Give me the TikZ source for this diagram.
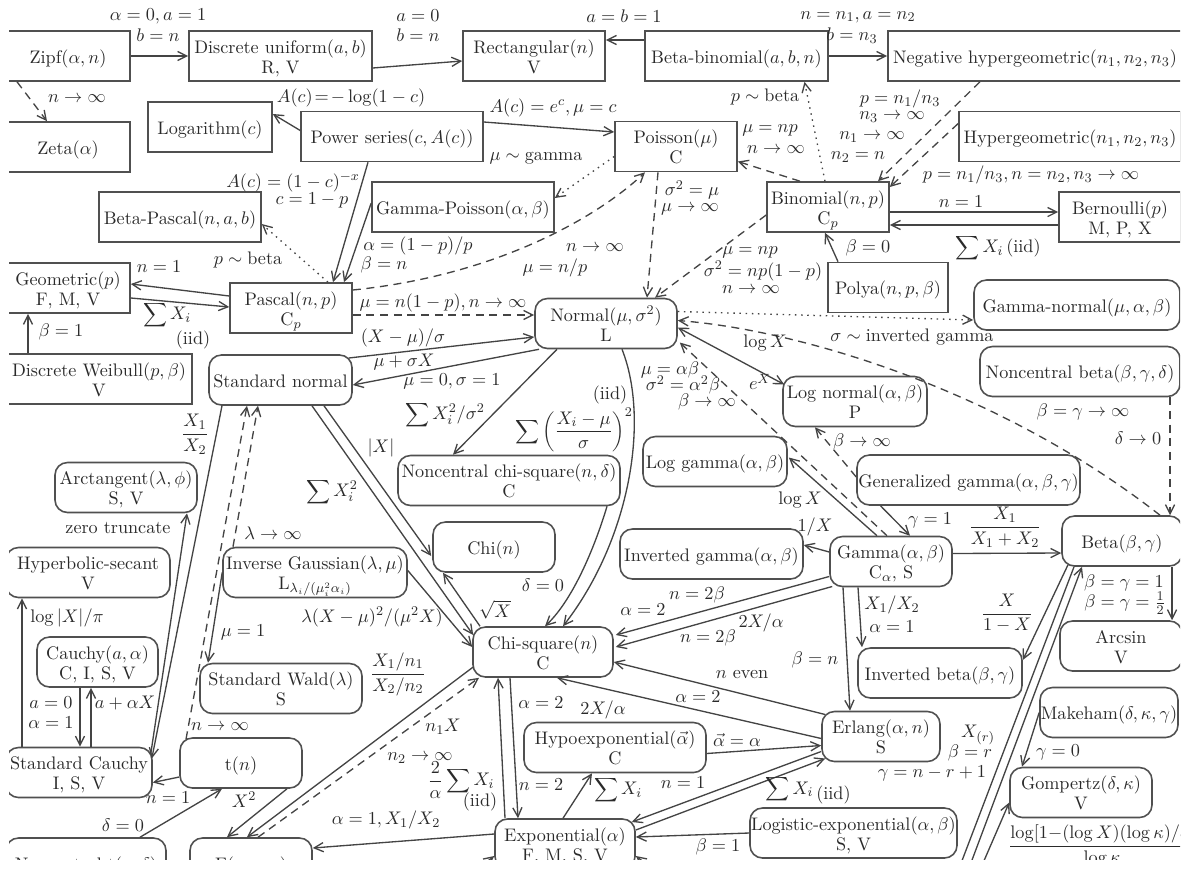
\documentclass[tikz,border=0pt]{standalone}
\usetikzlibrary{arrows.meta,calc}
\definecolor{ink}{HTML}{2A2A2A}
\definecolor{ln}{HTML}{444444}
\definecolor{bx}{HTML}{505050}
% two-line box text, first line sits in the upper half of the box
\newcommand\twol[2]{\raisebox{-4.8pt}[0pt][0pt]{\begin{tabular}{@{}c@{}}#1\\#2\end{tabular}}}
\begin{document}
\begin{tikzpicture}[x=0.6pt,y=-0.6pt,
  font=\fontsize{10.9pt}{12pt}\selectfont,
  dbox/.style={draw=bx,line width=0.95pt,minimum height=30pt,inner sep=0pt,text=ink},
  cbox/.style={dbox,rounded corners=7.5pt},
  wd/.style={minimum width=#1*0.6pt},
  lbl/.style={inner sep=0pt,text=ink},
  ar/.style={draw=ln,line width=0.8pt,-{Straight Barb[length=5.5pt,width=5.5pt]}},
  tw/.style={draw=ln,line width=0.8pt,{Straight Barb[length=5.5pt,width=5.5pt]}-{Straight Barb[length=5.5pt,width=5.5pt]}},
  dsh/.style={ar,dash pattern=on 4.8pt off 3.4pt},
  dotl/.style={ar,dash pattern=on 0.9pt off 2.8pt},
]
\useasboundingbox (0,0) rectangle (1193,868);
\begin{scope}
\clip (9,0) rectangle (1180,859);

% ---------- discrete distributions ----------
\node[dbox,wd=124] (zipf) at (68,56) {\twol{Zipf$(\alpha, n)$}{}};
\node[dbox,wd=183] (dunif) at (280.5,56) {\twol{Discrete uniform$(a, b)$}{R, V}};
\node[dbox,wd=142] (rect) at (534,56) {\twol{Rectangular$(n)$}{V}};
\node[dbox,wd=183] (betabin) at (736.5,56) {\twol{Beta-binomial$(a, b, n)$}{}};
\node[dbox,wd=294] (neghyp) at (1035,56) {\twol{Negative hypergeometric$(n_1, n_2, n_3)$}{}};
\node[dbox,wd=124] (zeta) at (68,147) {\twol{Zeta$(\alpha)$}{}};
\node[dbox,wd=124] (logd) at (210,127) {\twol{Logarithm$(c)$}{}};
\node[dbox,wd=182] (power) at (392,136.5) {\twol{Power series$(c, A(c))$}{}};
\node[dbox,wd=122] (poisson) at (676,146.5) {\twol{Poisson$(\mu)$}{C}};
\node[dbox,wd=222] (hyper) at (1070,136.5) {\twol{Hypergeometric$(n_1, n_2, n_3)$}{}};
\node[dbox,wd=182] (gpois) at (463,207) {\twol{Gamma-Poisson$(\alpha, \beta)$}{}};
\node[dbox,wd=162] (bpascal) at (180,217) {\twol{Beta-Pascal$(n, a, b)$}{}};
\node[dbox,wd=122] (binom) at (828,207) {\twol{Binomial$(n, p)$}{C$_p$}};
\node[dbox,wd=122] (bern) at (1120,217) {\twol{Bernoulli$(p)$}{M, P, X}};
\node[dbox,wd=120] (polya) at (888,287.5) {\twol{Polya$(n, p, \beta)$}{}};
\node[dbox,wd=124] (geom) at (68,288) {\twol{Geometric$(p)$}{F, M, V}};
\node[dbox,wd=122] (pascal) at (291,308) {\twol{Pascal$(n, p)$}{C$_p$}};
\node[dbox,wd=186] (dweib) at (99,379) {\twol{Discrete Weibull$(p, \beta)$}{V}};

% ---------- continuous distributions ----------
\node[cbox,wd=142] (normal) at (606,323.5) {\twol{Normal$(\mu, \sigma^2)$}{L}};
\node[cbox,wd=206] (gnormal) at (1077,305) {\twol{Gamma-normal$(\mu, \alpha, \beta)$}{}};
\node[cbox,wd=143] (sn) at (280.5,380) {\twol{Standard normal}{}};
\node[cbox,wd=200] (ncbeta) at (1080,371.5) {\twol{Noncentral beta$(\beta, \gamma, \delta)$}{}};
\node[cbox,wd=144] (lognorm) at (855,401.5) {\twol{Log normal$(\alpha, \beta)$}{P}};
\node[cbox,wd=222] (ncchi) at (509,480.5) {\twol{Noncentral chi-square$(n, \delta)$}{C}};
\node[cbox,wd=144] (loggamma) at (715,461.5) {\twol{Log gamma$(\alpha, \beta)$}{}};
\node[cbox,wd=223] (gengamma) at (968.5,480) {\twol{Generalized gamma$(\alpha, \beta, \gamma)$}{}};
\node[cbox,wd=142] (arctan) at (126,487.5) {\twol{Arctangent$(\lambda, \phi)$}{S, V}};
\node[cbox,wd=122] (chi) at (494,547) {\twol{Chi$(n)$}{}};
\node[cbox,wd=164] (hsec) at (88,572.5) {\twol{Hyperbolic-secant}{V}};
\node[cbox,wd=184] (invgauss) at (315,572.5) {\twol{Inverse Gaussian$(\lambda, \mu)$}{L$_{\lambda_i/(\mu_i^2\alpha_i)}$}};
\node[cbox,wd=183] (invgamma) at (711.5,554) {\twol{Inverted gamma$(\alpha, \beta)$}{}};
\node[cbox,wd=122] (gamma) at (891,561.5) {\twol{Gamma$(\alpha, \beta)$}{C$_\alpha$, S}};
\node[cbox,wd=120] (beta) at (1122,541) {\twol{Beta$(\beta, \gamma)$}{}};
\node[cbox,wd=121] (cauchy) at (97.5,662) {\twol{Cauchy$(a, \alpha)$}{C, I, S, V}};
\node[cbox,wd=162] (wald) at (281,688.5) {\twol{Standard Wald$(\lambda)$}{S}};
\node[cbox,wd=140] (chisq) at (543,652) {\twol{Chi-square$(n)$}{C}};
\node[cbox,wd=122] (arcsin) at (1121,646) {\twol{Arcsin}{V}};
\node[cbox,wd=164] (invbeta) at (940,673) {\twol{Inverted beta$(\beta, \gamma)$}{}};
\node[cbox,wd=138] (makeham) at (1109,712.5) {\twol{Makeham$(\delta, \kappa, \gamma)$}{}};
\node[cbox,wd=146] (scauchy) at (79,772.5) {\twol{Standard Cauchy}{I, S, V}};
\node[cbox,wd=122] (tn) at (241,763) {\twol{t$(n)$}{}};
\node[cbox,wd=182] (hypoexp) at (615,747.5) {\twol{Hypoexponential$(\vec{\alpha})$}{C}};
\node[cbox,wd=118] (erlang) at (881,736.5) {\twol{Erlang$(\alpha, n)$}{S}};
\node[cbox,wd=142] (gompertz) at (1081,792.5) {\twol{Gompertz$(\delta, \kappa)$}{V}};
\node[cbox,wd=207] (logexp) at (853.5,833) {\twol{Logistic-exponential$(\alpha, \beta)$}{S, V}};
\node[cbox,wd=140] (expo) at (565,844) {\twol{Exponential$(\alpha)$}{F, M, S, V}};
\node[cbox,wd=160] (nct) at (86,863) {\twol{Noncentral t$(n, \delta)$}{}};
\node[cbox,wd=122] (fdist) at (251,863) {\twol{F$(n_1, n_2)$}{}};

% ---------- connectors among the discrete ones ----------
\draw[ar] (zipf.east) -- (dunif.west);
\draw[dsh] ($(zipf.south)+(-51,0)$) -- ($(zeta.north)+(-21,0)$);
\draw[ar] ($(dunif.east)+(0,12)$) -- ($(rect.west)+(0,5)$);
\draw[ar] ($(betabin.west)+(0,-16)$) -- ($(rect.east)+(0,-16)$);
\draw[ar] (betabin.east) -- (neghyp.west);
\draw[ar] ($(power.west)+(0,-6)$) -- ($(logd.east)+(0,-13)$);
\draw[ar] ($(power.east)+(0,-14.5)$) -- ($(poisson.west)+(0,-14.5)$);
\draw[ar] ($(power.south)+(-24,0)$) -- ($(pascal.north)+(42,0)$);
\draw[ar] ($(gpois.west)+(0,-4)$) -- ($(pascal.north)+(53,0)$);
\draw[dotl] ($(poisson.west)+(0,10)$) -- ($(gpois.east)+(0,-9)$);
\draw[dsh] ($(pascal.east)+(0,-18)$) .. controls (500,275) and (600,215) .. ($(poisson.south)+(-31,0)$);
\draw[dotl] ($(pascal.north)+(37,0)$) -- ($(bpascal.east)+(0,7)$);
\draw[ar] ($(pascal.west)+(0,-12)$) -- ($(geom.east)+(0,-4)$);
\draw[ar] ($(geom.east)+(0,10)$) -- ($(pascal.west)+(0,-1)$);
\draw[ar] ($(dweib.north)+(-71,0)$) -- ($(geom.south)+(-40,0)$);
\draw[dsh] ($(pascal.east)+(0,7)$) -- ($(normal.west)+(0,-8.5)$);

\draw[ar] ($(binom.east)+(0,5)$) -- ($(bern.west)+(0,-5)$);
\draw[ar] ($(bern.west)+(0,8)$) -- ($(binom.east)+(0,18)$);
\draw[ar] ($(polya.north)+(-50,0)$) -- ($(binom.south)+(-3,0)$);
\draw[dsh] ($(binom.north)+(-28,0)$) -- ($(poisson.east)+(0,15)$);
\draw[dsh] ($(binom.west)+(0,8)$) -- ($(normal.north)+(49,0)$);
\draw[dsh] ($(poisson.south)+(-18,0)$) -- ($(normal.north)+(41,0)$);
\draw[dotl] ($(binom.north)+(-3,0)$) -- ($(betabin.south)+(68,0)$);
\draw[dsh] ($(neghyp.south)+(-55,0)$) -- ($(binom.north)+(50,0)$);
\draw[dsh] ($(hyper.west)+(0,-13)$) -- ($(binom.east)+(0,-20)$);

% ---------- around the normal ----------
\draw[ar] ($(sn.east)+(-4,-22)$) -- ($(normal.west)+(0,13.5)$);
\draw[ar] ($(normal.south)+(-67,0)$) -- ($(sn.east)+(0,5)$);
\draw[ar] ($(normal.south)+(-49,0)$) -- ($(ncchi.north)+(-56,0)$);
\draw[ar] ($(normal.south)+(16,0)$) .. controls (650,420) and (630,540) .. ($(chisq.north)+(20,0)$);
\draw[ar] ($(ncchi.south)+(98,0)$) .. controls (597,540) and (575,598) .. ($(chisq.north)+(2,0)$);
\draw[dotl] ($(normal.east)+(0,-12)$) -- ($(gnormal.west)+(0,15)$);
\draw[dsh] ($(beta.north)+(38,0)$) .. controls (1000,390) and (800,330) .. ($(normal.east)+(0,-3)$);
\draw[tw] ($(normal.east)+(0,4)$) -- ($(lognorm.west)+(2,-17)$);
\draw[dsh] ($(gamma.north)+(-4,0)$) -- ($(normal.east)+(2,19)$);
\draw[dsh] ($(gengamma.west)+(0,-3)$) -- ($(lognorm.south)+(-40,0)$);

% ---------- gamma family ----------
\draw[ar] ($(gengamma.south)+(-88,0)$) -- ($(gamma.north)+(19,0)$);
\draw[ar] ($(gamma.north)+(-14,0)$) -- ($(loggamma.east)+(1,-4)$);
\draw[ar] ($(gamma.west)+(0,-9.5)$) -- ($(invgamma.east)+(0,-9)$);
\draw[ar] ($(gamma.west)+(0,15)$) -- ($(chisq.east)+(2,-17)$);
\draw[ar] ($(gamma.west)+(3,25)$) -- ($(chisq.east)+(2,-5)$);
\draw[ar] ($(gamma.south)+(-48,0)$) -- ($(erlang.north)+(-31,0)$);
\draw[ar] ($(gamma.south)+(-33,0)$) -- ($(invbeta.north)+(-78,0)$);
\draw[ar] ($(gamma.east)+(0,-8)$) -- ($(beta.west)+(0,12)$);
\draw[dsh] ($(ncbeta.south)+(90,0)$) -- ($(beta.north)+(48,0)$);
\draw[ar] ($(beta.south)+(50,0)$) -- ($(arcsin.north)+(51,0)$);
\draw[ar] ($(beta.south)+(-54,-2)$) -- ($(invbeta.east)+(0,-13)$);
\coordinate (u1) at (947,900);
\coordinate (u2) at (957,900);
\coordinate (u3) at (967,900);
\draw[ar] ($(beta.south)+(-48,0)$) -- (u1);
\draw[ar] (u2) -- ($(beta.south)+(-40,0)$);
\draw[ar] (u3) -- ($(gompertz.west)+(0,10)$);
\draw[ar] (makeham.west) -- ($(gompertz.north)+(-59,0)$);

% ---------- Erlang and exponential ----------
\draw[ar] ($(erlang.west)+(4,-22)$) -- ($(chisq.east)+(0,10)$);
\draw[ar] ($(erlang.west)+(0,2)$) -- ($(chisq.south)+(14,0)$);
\draw[ar] ($(hypoexp.east)+(0,6)$) -- ($(erlang.west)+(0,9)$);
\draw[ar] ($(erlang.west)+(0,15)$) -- ($(expo.east)+(-4,-22)$);
\draw[ar] ($(expo.east)+(0,-14)$) -- ($(erlang.west)+(4,22)$);
\draw[ar] ($(expo.north)+(-60,0)$) -- ($(chisq.south)+(-45,0)$);
\draw[ar] ($(chisq.south)+(-33,0)$) -- ($(expo.north)+(-47,0)$);
\draw[ar] ($(expo.north)+(-2,0)$) -- ($(hypoexp.south)+(-23,0)$);
\draw[ar] (logexp.west) -- ($(expo.east)+(0,-7)$);
\draw[ar] ($(expo.west)+(0,-10)$) -- ($(fdist.east)+(0,-15)$);
\coordinate (u4) at (445,895);
\coordinate (u5) at (680,890);
\draw[ar] (u4) -- ($(expo.west)+(0,12)$);
\draw[ar] (u5) -- ($(expo.east)+(0,12)$);

% ---------- standard normal and the left column ----------
\draw[ar] ($(sn.south)+(43.5,0)$) -- ($(chi.west)+(-1,9)$);
\draw[ar] ($(sn.south)+(31.5,0)$) -- ($(chisq.west)+(1,-17)$);
\draw[ar] ($(chisq.north)+(-63,0)$) -- ($(chi.south)+(-51,0)$);
\draw[ar] ($(invgauss.east)+(0,-2)$) -- ($(chisq.west)+(0,-5)$);
\draw[dsh] ($(invgauss.north)+(-82,0)$) -- ($(sn.south)+(-22.5,0)$);
\draw[dsh] ($(tn.north)+(-55,2)$) -- ($(sn.south)+(-33.5,0)$);
\draw[ar] (invgauss.west) -- ($(wald.north)+(-73,0)$);
\draw[ar] ($(sn.south)+(-58.5,0)$) -- ($(scauchy.east)+(-1,-14)$);
\draw[ar] ($(scauchy.east)+(-2,-19)$) -- ($(arctan.south)+(61,0)$);
\draw[ar] ($(cauchy.south)+(-17.5,0)$) -- ($(scauchy.north)+(1,0)$);
\draw[ar] ($(scauchy.north)+(12,0)$) -- ($(cauchy.south)+(-6.5,0)$);
\draw[ar] ($(scauchy.north)+(-57,0)$) -- ($(hsec.south)+(-66,0)$);
\draw[ar] ($(tn.west)+(0,14)$) -- ($(scauchy.east)+(0,10)$);
\draw[ar] ($(nct.north)+(54,0)$) -- ($(tn.south)+(-19,0)$);
\draw[ar] ($(tn.south)+(46,0)$) -- ($(fdist.north)+(-24,0)$);
\draw[ar] ($(chisq.west)+(1,15)$) -- ($(fdist.north)+(-4,0)$);
\draw[dsh] ($(fdist.north)+(7,0)$) -- ($(chisq.south)+(-64,0)$);

% ---------- labels ----------
\node[lbl] (l1) at (158,16) {$\alpha = 0, a = 1$};
\node[lbl] (l2) at (158,35) {$b = n$};
\node[lbl] (l3) at (77,99) {$n \to \infty$};
\node[lbl] (l4) at (418,16) {$a = 0$};
\node[lbl] (l5) at (418,35) {$b = n$};
\node[lbl] (l6) at (624,16) {$a = b = 1$};
\node[lbl] (l7) at (858,17) {$n = n_1, a = n_2$};
\node[lbl] (l8) at (852,36) {$b = n_3$};
\node[lbl] (l9) at (351,98) {$A(c)\!=\!-\log(1-c)$};
\node[lbl] (l10) at (553,108) {$A(c) = e^c, \mu = c$};
\node[lbl] (l11) at (293,182) {$A(c) = (1-c)^{-x}$};
\node[lbl] (l12) at (312,200) {$c = 1 - p$};
\node[lbl] (l13) at (418,246) {$\alpha = (1-p)/p$};
\node[lbl] (l14) at (384,265) {$\beta = n$};
\node[lbl] (l15) at (536,158) {$\mu \sim \mbox{gamma}$};
\node[lbl] (l16) at (595,248) {$n \to \infty$};
\node[lbl] (l17) at (555,268) {$\mu = n/p$};
\node[lbl] (l18) at (248,260) {$p \sim \mbox{beta}$};
\node[lbl] (l19) at (159,267) {$n = 1$};
\node[lbl] (l20) at (167,315) {$\displaystyle\sum X_i$};
\node[lbl] (l21) at (193,340) {(iid)};
\node[lbl] (l22) at (61,332) {$\beta = 1$};
\node[lbl] (l23) at (443,303) {$\mu = n(1-p), n \to \infty$};
\node[lbl] (l24) at (403,338) {$(X - \mu)/\sigma$};
\node[lbl] (l25) at (404,362) {$\mu + \sigma X$};
\node[lbl] (l26) at (452,381) {$\mu = 0, \sigma = 1$};
\node[lbl] (l27) at (445,415) {$\displaystyle\sum X_i^2/\sigma^2$};
\node[lbl] (l28) at (610,395) {(iid)};
\node[lbl] (l29) at (574,430) {$\displaystyle\sum\left(\frac{X_i-\mu}{\sigma}\right)^{2}$};
\node[lbl] (l30) at (543,585) {$\delta = 0$};
\node[lbl] (l31) at (381,448) {$|X|$};
\node[lbl] (l32) at (332,492) {$\displaystyle\sum X_i^2$};
\node[lbl] (l33) at (273,533) {$\lambda \to \infty$};
\node[lbl] (l34) at (220,727) {$n \to \infty$};
\node[lbl] (l35) at (243,632) {$\mu = 1$};
\node[lbl] (l36) at (195,434) {$\displaystyle\frac{X_1}{X_2}$};
\node[lbl] (l37) at (118,528) {zero truncate};
\node[lbl] (l38) at (51,703) {$a = 0$};
\node[lbl] (l39) at (51,723) {$\alpha = 1$};
\node[lbl] (l40) at (125,703) {$a + \alpha X$};
\node[lbl] (l41) at (67,618) {$\log|X|/\pi$};
\node[lbl] (l42) at (168,798) {$n = 1$};
\node[lbl] (l43) at (123,825) {$\delta = 0$};
\node[lbl] (l44) at (244,800) {$X^2$};
\node[lbl] (l45) at (398,674) {$\displaystyle\frac{X_1/n_1}{X_2/n_2}$};
\node[lbl] (l46) at (443,727) {$n_1X$};
\node[lbl] (l47) at (420,758) {$n_2 \to \infty$};
\node[lbl] (l48) at (372,617) {$\lambda(X-\mu)^2/(\mu^2X)$};
\node[lbl] (l49) at (495,610) {$\sqrt{X}$};
\node[lbl] (l50) at (541,785) {$n = 2$};
\node[lbl] (l51) at (541,703) {$\alpha = 2$};
\node[lbl] (l52) at (461,780) {$\displaystyle\frac{2}{\alpha}\sum X_i$};
\node[lbl] (l53) at (480,802) {(iid)};
\node[lbl] (l54) at (618,790) {$\displaystyle\sum X_i$};
\node[lbl] (l55) at (737,740) {$\vec{\alpha} = \alpha$};
\node[lbl] (l56) at (683,783) {$n = 1$};
\node[lbl] (l57) at (808,790) {$\displaystyle\sum X_i$\,\raisebox{-3pt}{(iid)}};
\node[lbl] (l58) at (742,675) {$n$ even};
\node[lbl] (l59) at (698,697) {$\alpha = 2$};
\node[lbl] (l60) at (603,710) {$2X/\alpha$};
\node[lbl] (l61) at (697,595) {$n = 2\beta$};
\node[lbl] (l62) at (643,610) {$\alpha = 2$};
\node[lbl] (l63) at (761,623) {$2X/\alpha$};
\node[lbl] (l64) at (708,638) {$n = 2\beta$};
\node[lbl] (l65) at (815,660) {$\beta = n$};
\node[lbl] (l66) at (892,605) {$X_1/X_2$};
\node[lbl] (l67) at (892,627) {$\alpha = 1$};
\node[lbl] (l68) at (815,527) {$1/X$};
\node[lbl] (l69) at (800,500) {$\log X$};
\node[lbl] (l70) at (670,370) {$\mu = \alpha\beta$};
\node[lbl] (l71) at (683,385) {$\sigma^2 = \alpha^2\beta$};
\node[lbl] (l72) at (707,402) {$\beta \to \infty$};
\node[lbl] (l73) at (862,442) {$\beta \to \infty$};
\node[lbl] (l74) at (930,520) {$\gamma = 1$};
\node[lbl] (l75) at (765,343) {$\log X$};
\node[lbl] (l76) at (760,382) {$e^X$};
\node[lbl] (l77) at (912,337) {$\sigma \sim \mbox{inverted gamma}$};
\node[lbl] (l78) at (1083,412) {$\beta = \gamma \to \infty$};
\node[lbl] (l79) at (1138,438) {$\delta \to 0$};
\node[lbl] (l80) at (1005,527) {$\displaystyle\frac{X_1}{X_1 + X_2}$};
\node[lbl] (l81) at (1124,583) {$\beta = \gamma = 1$};
\node[lbl] (l82) at (1125,603) {$\beta = \gamma = \frac{1}{2}$};
\node[lbl] (l83) at (1007,613) {$\displaystyle\frac{X}{1-X}$};
\node[lbl] (l84) at (978,735) {$X_{(r)}$};
\node[lbl] (l85) at (970,753) {$\beta = r$};
\node[lbl] (l86) at (932,773) {$\gamma = n - r + 1$};
\node[lbl] (l87) at (1058,752) {$\gamma = 0$};
\node[lbl,anchor=west,font=\fontsize{10.5pt}{12pt}\selectfont] (l88) at (1008,846) {$\displaystyle\frac{\log[1{-}(\log X)(\log\kappa)/\delta]}{\log\kappa}$};
\node[lbl] (l89) at (961,202) {$n = 1$};
\node[lbl] (l90) at (998,248) {$\displaystyle\sum X_i$\,(iid)};
\node[lbl] (l91) at (868,248) {$\beta = 0$};
\node[lbl] (l92) at (770,130) {$\mu = np$};
\node[lbl] (l93) at (776,150) {$n \to \infty$};
\node[lbl] (l94) at (750,252) {$\mu = np$};
\node[lbl] (l95) at (763,271) {$\sigma^2 = np(1-p)$};
\node[lbl] (l96) at (751,290) {$n \to \infty$};
\node[lbl] (l97) at (692,190) {$\sigma^2 = \mu$};
\node[lbl] (l98) at (690,209) {$\mu \to \infty$};
\node[lbl] (l99) at (765,97) {$p \sim \mbox{beta}$};
\node[lbl] (l100) at (900,99) {$p = n_1/n_3$};
\node[lbl] (l101) at (892,117) {$n_3 \to \infty$};
\node[lbl] (l102) at (872,137) {$n_1 \to \infty$};
\node[lbl] (l103) at (858,157) {$n_2 = n$};
\node[lbl] (l104) at (1031,175) {$p = n_1/n_3, n = n_2, n_3 \to \infty$};
\node[lbl] (l105) at (718,847) {$\beta = 1$};
\node[lbl] (l106) at (386,820) {$\alpha = 1, X_1/X_2$};
\end{scope}
\end{tikzpicture}
\end{document}
